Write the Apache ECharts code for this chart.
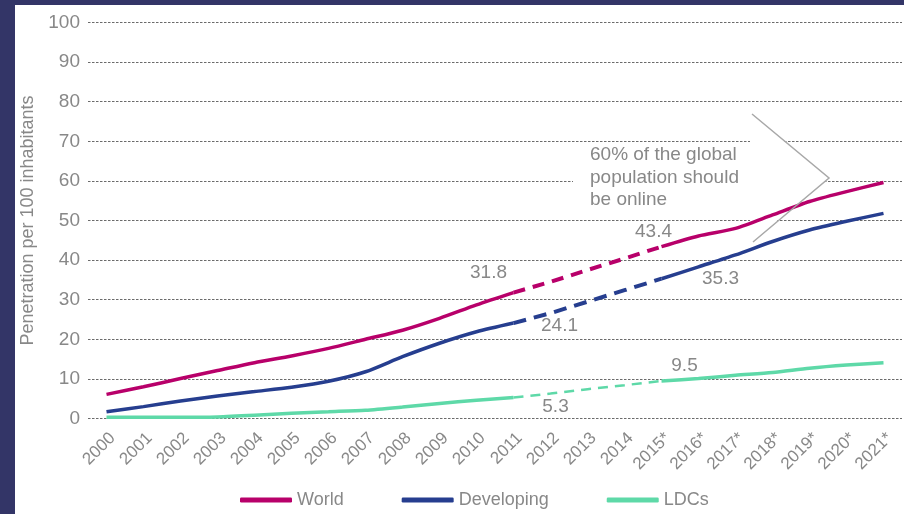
<!DOCTYPE html>
<html>
<head>
<meta charset="utf-8">
<script src="https://cdn.jsdelivr.net/npm/echarts@6/dist/echarts.min.js"></script>
<style>
  html, body { margin: 0; padding: 0; background: #fff; }
  #chart { width: 904px; height: 514px; }
</style>
</head>
<body>
<div id="chart"></div>
<script>
var years = ['2000', '2001', '2002', '2003', '2004', '2005', '2006', '2007', '2008', '2009', '2010',
    '2011', '2012', '2013', '2014', '2015*', '2016*', '2017*', '2018*', '2019*', '2020*', '2021*'];
var world = [6.1, 8.0, 10.1, 12.1, 14.1, 15.8, 17.7, 20.0, 22.3, 25.3, 28.7,
    31.8, 34.5, 37.5, 40.4, 43.4, 46.1, 48.0, 51.4, 54.8, 57.3, 59.6];
var developing = [1.7, 3.0, 4.4, 5.7, 6.8, 7.9, 9.4, 11.8, 15.6, 19.0, 21.9,
    24.1, 26.6, 29.5, 32.4, 35.3, 38.3, 41.3, 44.7, 47.6, 49.8, 51.8];
var ldcs = [0.3, 0.3, 0.3, 0.4, 0.8, 1.3, 1.7, 2.1, 2.9, 3.8, 4.6,
    5.3, 6.3, 7.4, 8.4, 9.5, 10.1, 10.9, 11.6, 12.7, 13.5, 14.1];
// dashed stretch between the two labelled years
var gapFrom = 11, gapTo = 15;

var grey = '#888888';
var font = 'Liberation Sans';

function solidPart(arr) {
    return arr.map(function (v, i) { return (i > gapFrom && i < gapTo) ? null : v; });
}
function dashedPart(arr) {
    return arr.map(function (v, i) { return (i >= gapFrom && i <= gapTo) ? v : null; });
}
// value labels at 2011 and 2015, offsets are only text placement
function marks(arr, off1, off2) {
    return {
        symbol: 'circle',
        symbolSize: 1,
        itemStyle: { color: 'rgba(0,0,0,0)' },
        label: {
            show: true, position: 'inside', formatter: '{c}',
            color: grey, fontSize: 19, fontFamily: font
        },
        data: [
            { coord: [gapFrom, arr[gapFrom]], value: arr[gapFrom].toFixed(1), label: { offset: off1 } },
            { coord: [gapTo, arr[gapTo]], value: arr[gapTo].toFixed(1), label: { offset: off2 } }
        ]
    };
}
function pair(name, arr, color, width, dash, off1, off2) {
    return [{
        name: name, type: 'line', data: solidPart(arr), smooth: 0.25,
        showSymbol: false, color: color, z: 3,
        lineStyle: { color: color, width: width },
        markPoint: marks(arr, off1, off2)
    }, {
        name: name, type: 'line', data: dashedPart(arr),
        showSymbol: false, color: color, z: 3,
        lineStyle: { color: color, width: dash.w, type: dash.t }
    }];
}

var chart = echarts.init(document.getElementById('chart'));
var series = [].concat(
    pair('World', world, '#b8006a', 3.5, { w: 4, t: [12, 8] }, [-25, -20], [-8, -15]),
    pair('Developing', developing, '#263e8f', 3.5, { w: 4, t: [13, 8] }, [46, 3], [59, 0]),
    pair('LDCs', ldcs, '#5ed9a8', 3.5, { w: 2.5, t: [10, 7] }, [42, 9], [23, -15])
);

chart.setOption({
    animation: false,
    grid: { left: 88, right: 2, top: 22.5, bottom: 95.5 },
    legend: {
        data: ['World', 'Developing', 'LDCs'],
        left: 235, top: 486,
        icon: 'roundRect', itemWidth: 52, itemHeight: 5, itemGap: 58,
        textStyle: { color: grey, fontSize: 18, fontFamily: font }
    },
    xAxis: {
        type: 'category',
        data: years,
        boundaryGap: true,
        axisLine: { show: false },
        axisTick: { show: false },
        axisLabel: { interval: 0, rotate: 45, margin: 11, verticalAlign: 'top',
                     color: grey, fontSize: 17, fontFamily: font }
    },
    yAxis: {
        type: 'value',
        min: 0, max: 100, interval: 10,
        name: 'Penetration per 100 inhabitants',
        nameLocation: 'middle', nameGap: 50,
        nameTextStyle: { color: grey, fontSize: 18, fontFamily: font },
        axisLine: { show: false },
        axisTick: { show: false },
        axisLabel: { margin: 8, color: grey, fontSize: 19, fontFamily: font },
        splitLine: { lineStyle: { color: '#6b6b6b', width: 1, type: [2.5, 1.5] } }
    },
    graphic: [
        // white knockout behind the note and inside the bracket
        { type: 'rect', z: 1, shape: { x: 573, y: 150, width: 180, height: 60 }, style: { fill: '#fff' } },
        { type: 'polygon', z: 1, shape: { points: [[750, 113], [829, 178], [750, 243]] }, style: { fill: '#fff' } },
        { type: 'polyline', z: 4, shape: { points: [[752, 114], [829, 178], [753, 242]] },
          style: { stroke: '#a8a8a8', lineWidth: 1.5, fill: null } },
        { type: 'text', z: 4, left: 590, top: 144,
          style: { text: '60% of the global\npopulation should\nbe online', fill: grey,
                   font: '19px "Liberation Sans"', lineHeight: 22.5 } },
        // frame strips
        { type: 'rect', z: 10, shape: { x: 0, y: 0, width: 15, height: 514 }, style: { fill: '#333567' } },
        { type: 'rect', z: 10, shape: { x: 0, y: 0, width: 904, height: 5 }, style: { fill: '#333567' } }
    ],
    series: series
});
</script>
</body>
</html>
